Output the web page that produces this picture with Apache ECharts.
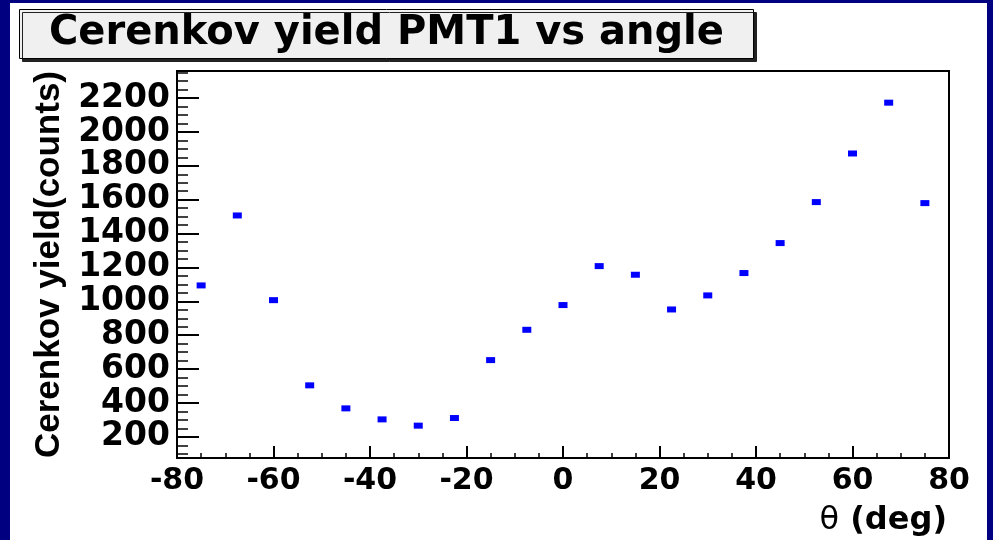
<!DOCTYPE html>
<html>
<head>
<meta charset="utf-8">
<script src="https://cdn.jsdelivr.net/npm/echarts@6/dist/echarts.min.js"></script>
<style>
  html, body { margin: 0; padding: 0; background: #ffffff; }
  #chart { width: 993px; height: 540px; }
</style>
</head>
<body>
<div id="chart"></div>
<script>
// Scan angle of the detector (degrees) and the Cerenkov yield seen by PMT1 (counts)
const angles = [-75, -67.5, -60, -52.5, -45, -37.5, -30, -22.5, -15, -7.5, 0,
                7.5, 15, 22.5, 30, 37.5, 45, 52.5, 60, 67.5, 75];
const yields = [1094, 1507, 1007, 504, 368, 303, 266, 311, 653, 832, 978,
                1208, 1157, 952, 1035, 1167, 1344, 1586, 1873, 2173, 1580];

// Axis ranges and tick labels
const xRange = [-80, 80];
const yRange = [75, 2360];
const yTickLabels = [200, 400, 600, 800, 1000, 1200, 1400, 1600, 1800, 2000, 2200];
const yMajorStep = 200;
const yMinorStep = 50;
const yMajorFirst = 200;
const yMinorFirst = 100;

const points = angles.map((a, i) => [a, yields[i]]);

const BOLD = 'DejaVu Sans';
const NAVY = '#000080';
const CANVAS_W = 993;
const CANVAS_H = 540;
const plotBox = { left: 177, right: 44, top: 71, bottom: 82 };
const plotH = CANVAS_H - plotBox.top - plotBox.bottom;
const pxPerUnit = plotH / (yRange[1] - yRange[0]);

// A narrow strip along the left edge of the plot whose y axis starts at `first`
// (a multiple of `step`) on the same pixel scale as the main plot; its split lines
// are the inward tick marks of the main y axis.
function tickStrip(index, first, step, len, width) {
  const bottomY = plotBox.top + (yRange[1] - first) * pxPerUnit;
  return {
    grid: {
      show: false,
      left: plotBox.left,
      right: CANVAS_W - plotBox.left - len,
      top: plotBox.top,
      bottom: CANVAS_H - bottomY
    },
    x: { type: 'value', gridIndex: index, min: xRange[0], max: xRange[1], interval: 20, show: false },
    y: {
      type: 'value',
      gridIndex: index,
      position: 'left',
      min: first,
      max: yRange[1],
      interval: step,
      z: 5,
      axisLine: { show: false, onZero: false },
      axisLabel: { show: false },
      axisTick: { show: false },
      splitLine: { show: true, lineStyle: { color: '#000000', width: width, type: 'solid' } }
    }
  };
}
const majorStrip = tickStrip(1, yMajorFirst, yMajorStep, 22, 2);
const minorStrip = tickStrip(2, yMinorFirst, yMinorStep, 11, 1.5);

const chart = echarts.init(document.getElementById('chart'), null, { renderer: 'canvas' });

chart.setOption({
  animation: false,
  backgroundColor: '#ffffff',
  title: {
    text: 'Cerenkov yield PMT1 vs angle',
    left: 19,
    top: 9,
    padding: [5, 30],
    backgroundColor: '#f0f0f0',
    borderColor: '#000000',
    borderWidth: 1,
    shadowColor: '#222222',
    shadowBlur: 0,
    shadowOffsetX: 3,
    shadowOffsetY: 3,
    textStyle: {
      fontFamily: BOLD,
      fontWeight: 'bold',
      fontSize: 40,
      lineHeight: 40,
      color: '#000000'
    }
  },
  graphic: [
    // navy canvas frame
    { type: 'rect', shape: { x: 0, y: 0, width: 993, height: 3 }, style: { fill: NAVY }, silent: true },
    { type: 'rect', shape: { x: 0, y: 0, width: 10, height: 540 }, style: { fill: NAVY }, silent: true },
    { type: 'rect', shape: { x: 987, y: 0, width: 6, height: 540 }, style: { fill: NAVY }, silent: true }
  ],
  grid: [
    Object.assign({ show: true, borderColor: '#000000', borderWidth: 2, backgroundColor: '#ffffff' }, plotBox),
    majorStrip.grid,
    minorStrip.grid
  ],
  xAxis: [
    {
      type: 'value',
      gridIndex: 0,
      min: xRange[0],
      max: xRange[1],
      interval: 20,
      name: '{t|θ} (deg)',
      nameLocation: 'end',
      nameGap: -2,
      nameTextStyle: {
        fontFamily: BOLD,
        fontWeight: 'bold',
        fontSize: 32,
        color: '#000000',
        align: 'right',
        verticalAlign: 'top',
        padding: [47, 0, 0, 0],
        rich: { t: { fontFamily: BOLD, fontWeight: 'normal', fontSize: 32, color: '#000000' } }
      },
      axisLine: { show: true, onZero: false, lineStyle: { color: '#000000', width: 2 } },
      axisTick: { show: true, inside: true, length: 12, lineStyle: { color: '#000000', width: 2 } },
      minorTick: { show: true, splitNumber: 4, length: 5, lineStyle: { color: '#000000', width: 1.5 } },
      axisLabel: {
        margin: 8,
        fontFamily: BOLD,
        fontWeight: 'bold',
        fontSize: 30,
        color: '#000000'
      },
      splitLine: { show: false }
    },
    majorStrip.x,
    minorStrip.x
  ],
  yAxis: [
    {
      type: 'value',
      gridIndex: 0,
      min: yRange[0],
      max: yRange[1],
      name: 'Cerenkov yield(counts)',
      nameLocation: 'middle',
      nameGap: 91,
      nameTextStyle: {
        fontFamily: 'Liberation Sans',
        fontWeight: 'bold',
        fontSize: 35,
        color: '#000000'
      },
      axisLine: { show: true, onZero: false, lineStyle: { color: '#000000', width: 2 } },
      axisTick: { show: false },
      axisLabel: {
        margin: 7,
        customValues: yTickLabels,
        formatter: (v) => String(v),
        fontFamily: BOLD,
        fontWeight: 'bold',
        fontSize: 33,
        color: '#000000'
      },
      splitLine: { show: false }
    },
    majorStrip.y,
    minorStrip.y
  ],
  series: [
    {
      type: 'scatter',
      xAxisIndex: 0,
      yAxisIndex: 0,
      data: points,
      symbol: 'rect',
      symbolSize: [9, 6],
      itemStyle: { color: '#0000ff', opacity: 1 }
    }
  ]
});
</script>
</body>
</html>
